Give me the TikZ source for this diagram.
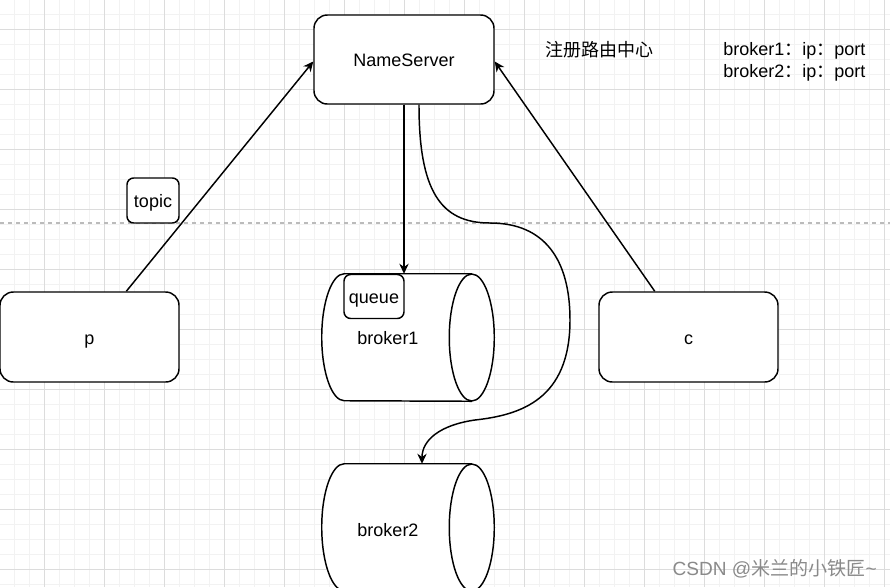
\documentclass[tikz,border=0pt]{standalone}
\usepackage{fontspec}
\setmainfont{Liberation Sans}
\newfontfamily\cjk{Noto Sans CJK SC}
\usetikzlibrary{arrows.meta,calc}
\definecolor{minorgrid}{HTML}{F2F2F2}
\definecolor{majorgrid}{HTML}{DCDCDC}
\definecolor{dashgray}{HTML}{BBBBBB}
\definecolor{wmgray}{HTML}{8A8A8A}
\newcommand\drawcyl[1]{%
  \fill[white] ($(#1.north east)+(-22.5,0)$) -- ($(#1.north west)+(22.5,0)$)
    arc[start angle=270,end angle=90,x radius=22.5,y radius=63.5]
    -- ($(#1.south east)+(-22.5,0)$) -- cycle;
  \draw[shapeline] ($(#1.north east)+(-22.5,0)$) -- ($(#1.north west)+(22.5,0)$)
    arc[start angle=270,end angle=90,x radius=22.5,y radius=63.5]
    -- ($(#1.south east)+(-22.5,0)$);
  \draw[shapeline,fill=white] ($(#1.east)+(-22.5,0)$) ellipse[x radius=22.5,y radius=63.5];
}
\begin{document}
\begin{tikzpicture}[x=0.75pt,y=-0.75pt,
  shapeline/.style={line width=1.1pt,black},
  txt/.style={text height=12.5pt,text depth=2pt},
  box/.style={draw,line width=1.1pt,fill=white,rounded corners=#1,inner sep=0pt,txt},
  box/.default=10pt,
  ghost/.style={inner sep=0pt,minimum width=172*0.75pt,minimum height=127*0.75pt},
  lbl/.style={inner sep=0pt,txt},
  conn/.style={line width=1.1pt,-{Stealth[length=7.5pt,width=7pt]}},
  every node/.style={font=\fontsize{13.5pt}{16.5pt}\selectfont}]
\fill[white] (0,0) rectangle (890,587);
\useasboundingbox (0,0) rectangle (890,587);
% grid
\foreach \x in {-1,14,...,889} \draw[minorgrid,line width=0.75pt] (\x,0) -- (\x,587);
\foreach \y in {-1,14,...,586} \draw[minorgrid,line width=0.75pt] (0,\y) -- (890,\y);
\foreach \x in {44,104,...,884} \draw[majorgrid,line width=0.75pt] (\x,0) -- (\x,587);
\foreach \y in {29,89,...,569} \draw[majorgrid,line width=0.75pt] (0,\y) -- (890,\y);
% dashed separator
\coordinate (dl) at (0,223);
\coordinate (dr) at (890,223);
\draw[dashgray,line width=0.8pt,dash pattern=on 3pt off 3pt] (dl) -- (dr);

% nodes
\node[box,minimum width=180*0.75pt,minimum height=89*0.75pt] (ns) at (404,59.5) {NameServer};
\node[box,minimum width=179*0.75pt,minimum height=90*0.75pt] (p) at (89.5,337) {p};
\node[box,minimum width=179*0.75pt,minimum height=90*0.75pt] (c) at (688.5,337) {c};
\node[box=5pt,minimum width=52*0.75pt,minimum height=45*0.75pt] (topic) at (153,200.5) {topic};

\node[ghost] (b1) at (408,337.5) {};
\drawcyl{b1}
\node[lbl] (b1t) at ($(b1.center)+(-20,0)$) {broker1};
\node[box=5pt,minimum width=60*0.75pt,minimum height=44*0.75pt] (queue) at (374,296.5) {queue};

\node[ghost] (b2) at (408,527.5) {};
\drawcyl{b2}
\node[lbl] (b2t) at ($(b2.center)+(-20,2)$) {broker2};

% texts
\node[lbl,anchor=west] (reg) at (545,49) {\cjk 注册路由中心};
\node[lbl,anchor=west] (bk1) at (723,48.5) {broker1{\cjk ：}ip{\cjk ：}port};
\node[lbl,anchor=west] (bk2) at (723,70.5) {broker2{\cjk ：}ip{\cjk ：}port};
\node[inner sep=0pt,anchor=east,text=wmgray,font=\fontsize{14.3pt}{16pt}\selectfont] (wm) at (877,569) {CSDN @{\cjk 米兰的小铁匠}\textasciitilde};

% connectors
\draw[conn] ($(p.north west)!0.704!(p.north east)$) -- ($(ns.west)+(0,2)$);
\draw[conn] ($(c.north west)!0.313!(c.north east)$) -- ($(ns.east)+(0,2)$);
\draw[conn] (ns.south) -- (ns.south |- b1.north);
\draw[conn] ($(ns.south)+(15,0)$) .. controls (419,190) and (440,223) .. (490,223)
  .. controls (545,223) and (570,260) .. (570,320)
  .. controls (570,400) and (520,415) .. (475,420)
  .. controls (440,425) and (422,440) .. ($(b2.north)+(14,0)$);
\end{tikzpicture}
\end{document}
